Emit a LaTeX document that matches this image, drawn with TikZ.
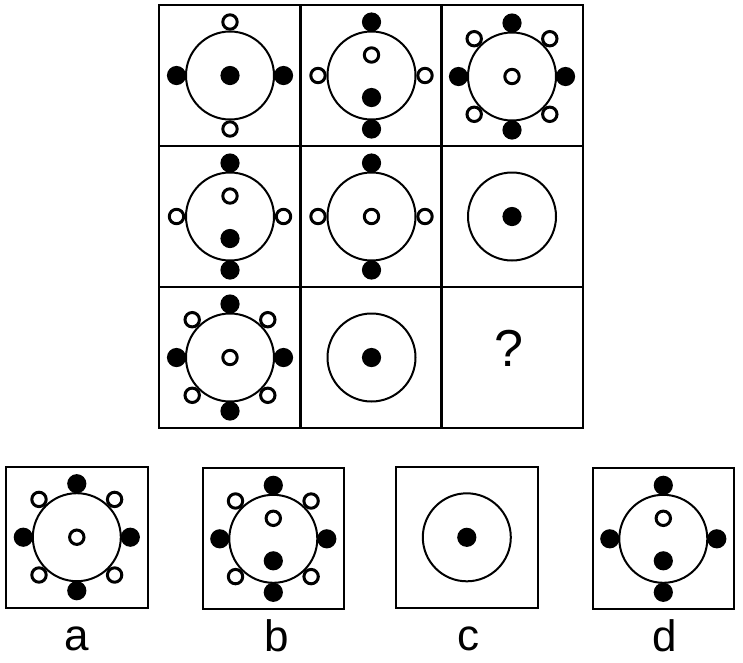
\documentclass[tikz,border=0pt]{standalone}
\usepackage{fontspec}
\setmainfont{Liberation Sans}
\tikzset{
  cellbox/.style={draw=black, line width=2.4pt},
  optbox/.style={draw=black, line width=2.2pt},
  bigring/.style={draw=black, line width=2pt},
  filleddot/.style={fill=black},
  opendot/.style={draw=black, line width=3pt, fill=white},
  lbl/.style={font=\fontsize{44}{44}\selectfont, inner sep=0pt, anchor=base}
}
\newcommand\Ring{\draw[bigring] (0,0) circle (44pt);}
\newcommand\FD[1]{\fill[filleddot] (#1) circle (9.6pt);}
\newcommand\OD[1]{\draw[opendot] (#1) circle (7.2pt);}
% outer positions
\def\pN{0,-53.5}\def\pS{0,53.5}\def\pW{-53.5,0}\def\pE{53.5,0}
\def\pNE{37.8,-37.8}\def\pNW{-37.8,-37.8}\def\pSE{37.8,37.8}\def\pSW{-37.8,37.8}
\def\pIT{0,-20.5}\def\pIB{0,22}
\newcommand\Diags{\OD{\pNE}\OD{\pNW}\OD{\pSE}\OD{\pSW}}
\newcommand\AllFilled{\FD{\pN}\FD{\pS}\FD{\pW}\FD{\pE}}
\begin{document}
\begin{tikzpicture}[x=1pt,y=-1pt]
\useasboundingbox (0,0) rectangle (743,662);
% grid
\draw[cellbox] (159,5) rectangle (583,428);
\foreach \xx in {300.3,441.6} \draw[cellbox] (\xx,5) -- (\xx,428);
\foreach \yy in {146,287} \draw[cellbox] (159,\yy) -- (583,\yy);
% cell 1,1
\begin{scope}[shift={(230,75.5)}]
  \Ring \OD{\pN}\OD{\pS}\FD{\pW}\FD{\pE}\FD{0,0}
\end{scope}
% cell 1,2
\begin{scope}[shift={(371.5,75.5)}]
  \Ring \FD{\pN}\FD{\pS}\OD{\pW}\OD{\pE}\OD{\pIT}\FD{\pIB}
\end{scope}
% cell 1,3
\begin{scope}[shift={(512,76.5)}]
  \Ring \AllFilled\Diags\OD{0,0}
\end{scope}
% cell 2,1
\begin{scope}[shift={(230,216.5)}]
  \Ring \FD{\pN}\FD{\pS}\OD{\pW}\OD{\pE}\OD{\pIT}\FD{\pIB}
\end{scope}
% cell 2,2
\begin{scope}[shift={(371.5,216.5)}]
  \Ring \FD{\pN}\FD{\pS}\OD{\pW}\OD{\pE}\OD{0,0}
\end{scope}
% cell 2,3
\begin{scope}[shift={(512,216.5)}]
  \Ring \FD{0,0}
\end{scope}
% cell 3,1
\begin{scope}[shift={(230,357.5)}]
  \Ring \AllFilled\Diags\OD{0,0}
\end{scope}
% cell 3,2
\begin{scope}[shift={(371.5,357.5)}]
  \Ring \FD{0,0}
\end{scope}
% cell 3,3
\node[lbl, font=\fontsize{52}{52}\selectfont] (q) at (509,366) {?};
% options
\draw[optbox] (6,466.7) rectangle (147.7,607.7);
\draw[optbox] (202.7,468.3) rectangle (344,609.3);
\draw[optbox] (396,466.7) rectangle (537.7,608);
\draw[optbox] (592.7,468.3) rectangle (734,609.3);
\begin{scope}[shift={(76.8,537.2)}]
  \Ring \AllFilled\Diags\OD{0,0}
\end{scope}
\begin{scope}[shift={(273.3,538.8)}]
  \Ring \AllFilled\Diags\OD{\pIT}\FD{\pIB}
\end{scope}
\begin{scope}[shift={(466.8,537.3)}]
  \Ring \FD{0,0}
\end{scope}
\begin{scope}[shift={(663.3,538.8)}]
  \Ring \AllFilled\OD{\pIT}\FD{\pIB}
\end{scope}
\node[lbl] (la) at (76.7,650) {a};
\node[lbl] (lb) at (276.7,651) {b};
\node[lbl] (lc) at (468,650) {c};
\node[lbl] (ld) at (665,651) {d};
\end{tikzpicture}
\end{document}
